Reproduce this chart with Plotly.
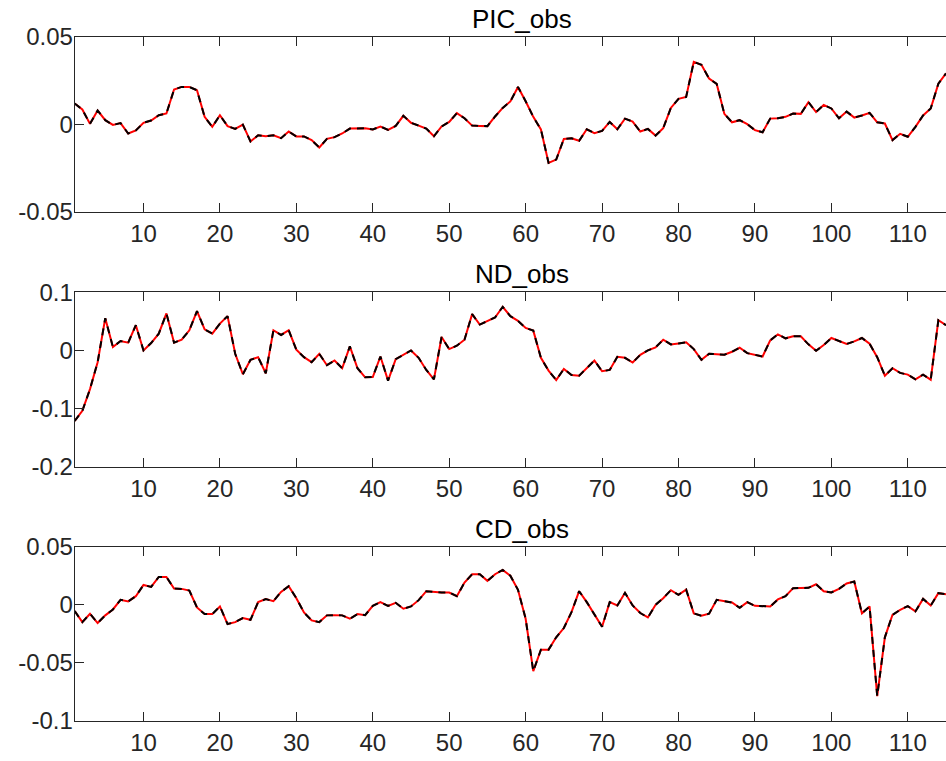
import plotly.graph_objects as go

# Observed series (quarterly index 1..115)
periods = list(range(1, 116))

pic_obs = [
    0.0118, 0.0084, 0.0002, 0.0078, 0.0023, -0.0004, 0.0006, -0.0053, -0.0036, 0.0008,
    0.0021, 0.0051, 0.0061, 0.0198, 0.0213, 0.0213, 0.0194, 0.0042, -0.0015, 0.0051,
    -0.0011, -0.0027, -0.0002, -0.0099, -0.0063, -0.0069, -0.0063, -0.0080, -0.0042, -0.0070,
    -0.0070, -0.0091, -0.0133, -0.0084, -0.0074, -0.0053, -0.0025, -0.0023, -0.0023, -0.0030,
    -0.0013, -0.0032, -0.0010, 0.0048, 0.0008, -0.0008, -0.0025, -0.0069, -0.0013, 0.0013,
    0.0063, 0.0034, -0.0008, -0.0010, -0.0011, 0.0044, 0.0093, 0.0130, 0.0213, 0.0131,
    0.0042, -0.0030, -0.0221, -0.0202, -0.0084, -0.0080, -0.0095, -0.0029, -0.0051, -0.0038,
    0.0013, -0.0029, 0.0032, 0.0015, -0.0042, -0.0027, -0.0065, -0.0023, 0.0093, 0.0145,
    0.0156, 0.0356, 0.0339, 0.0261, 0.0230, 0.0059, 0.0011, 0.0023, 0.0000, -0.0034,
    -0.0046, 0.0032, 0.0034, 0.0042, 0.0061, 0.0059, 0.0126, 0.0069, 0.0110, 0.0090,
    0.0034, 0.0072, 0.0038, 0.0050, 0.0065, 0.0011, 0.0004, -0.0091, -0.0055, -0.0072,
    -0.0015, 0.0050, 0.0090, 0.0232, 0.0290,
]

nd_obs = [
    -0.1214, -0.1040, -0.0665, -0.0202, 0.0555, 0.0058, 0.0162, 0.0133, 0.0434, 0.0000,
    0.0127, 0.0289, 0.0636, 0.0133, 0.0185, 0.0347, 0.0676, 0.0364, 0.0289, 0.0462,
    0.0590, -0.0058, -0.0410, -0.0162, -0.0116, -0.0393, 0.0347, 0.0266, 0.0347, 0.0012,
    -0.0116, -0.0202, -0.0058, -0.0254, -0.0173, -0.0306, 0.0069, -0.0306, -0.0462, -0.0457,
    -0.0104, -0.0520, -0.0150, -0.0075, 0.0000, -0.0127, -0.0335, -0.0497, 0.0231, 0.0023,
    0.0081, 0.0185, 0.0624, 0.0445, 0.0509, 0.0566, 0.0751, 0.0590, 0.0509, 0.0387,
    0.0341, -0.0127, -0.0347, -0.0509, -0.0318, -0.0422, -0.0434, -0.0301, -0.0173, -0.0358,
    -0.0335, -0.0110, -0.0127, -0.0208, -0.0075, 0.0000, 0.0052, 0.0185, 0.0104, 0.0121,
    0.0139, 0.0023, -0.0162, -0.0058, -0.0064, -0.0075, -0.0023, 0.0046, -0.0046, -0.0081,
    -0.0104, 0.0173, 0.0277, 0.0208, 0.0243, 0.0243, 0.0104, -0.0006, 0.0092, 0.0214,
    0.0168, 0.0110, 0.0156, 0.0214, 0.0116, -0.0116, -0.0434, -0.0306, -0.0387, -0.0416,
    -0.0497, -0.0416, -0.0503, 0.0520, 0.0434,
]

cd_obs = [
    -0.0054, -0.0149, -0.0077, -0.0157, -0.0091, -0.0040, 0.0043, 0.0029, 0.0074, 0.0171,
    0.0154, 0.0240, 0.0240, 0.0140, 0.0137, 0.0123, -0.0023, -0.0080, -0.0080, -0.0014,
    -0.0166, -0.0149, -0.0114, -0.0129, 0.0023, 0.0049, 0.0031, 0.0111, 0.0160, 0.0057,
    -0.0066, -0.0134, -0.0149, -0.0091, -0.0089, -0.0091, -0.0120, -0.0080, -0.0089, -0.0009,
    0.0023, -0.0009, 0.0017, -0.0034, -0.0014, 0.0040, 0.0117, 0.0109, 0.0106, 0.0106,
    0.0074, 0.0191, 0.0263, 0.0263, 0.0206, 0.0263, 0.0300, 0.0250, 0.0129, -0.0120,
    -0.0571, -0.0386, -0.0386, -0.0280, -0.0200, -0.0063, 0.0117, 0.0023, -0.0086, -0.0189,
    0.0023, -0.0006, 0.0103, -0.0006, -0.0071, -0.0109, 0.0000, 0.0057, 0.0126, 0.0086,
    0.0131, -0.0074, -0.0094, -0.0077, 0.0043, 0.0031, 0.0020, -0.0026, 0.0023, -0.0009,
    -0.0011, -0.0014, 0.0046, 0.0074, 0.0143, 0.0146, 0.0146, 0.0177, 0.0117, 0.0106,
    0.0137, 0.0183, 0.0200, -0.0074, -0.0014, -0.0786, -0.0280, -0.0086, -0.0043, -0.0011,
    -0.0057, 0.0051, -0.0006, 0.0100, 0.0091,
]

titles = ["PIC_obs", "ND_obs", "CD_obs"]
series = [pic_obs, nd_obs, cd_obs]
y_ranges = [[-0.05, 0.05], [-0.2, 0.1], [-0.1, 0.05]]
y_tickvals = [[-0.05, 0, 0.05], [-0.2, -0.1, 0, 0.1], [-0.1, -0.05, 0, 0.05]]
y_ticktext = [["-0.05", "0", "0.05"], ["-0.2", "-0.1", "0", "0.1"], ["-0.1", "-0.05", "0", "0.05"]]
x_tickvals = [10, 20, 30, 40, 50, 60, 70, 80, 90, 100, 110]

W, H = 946, 761
FONT = "Liberation Sans, Arial, Helvetica, sans-serif"
AX_COLOR = "#262626"

# panel boxes in pixels: (top, bottom)
panel_px = [(36.7, 211.7), (292.3, 466.7), (546.7, 721.0)]
left_px = 74.7

fig = go.Figure()
layout = dict(
    width=W, height=H,
    margin=dict(l=0, r=0, t=0, b=0, pad=0, autoexpand=False),
    paper_bgcolor="white", plot_bgcolor="white",
    showlegend=False,
    font=dict(family=FONT, color=AX_COLOR, size=24),
)
annotations = []

for k, (name, vals) in enumerate(zip(titles, series)):
    sfx = "" if k == 0 else str(k + 1)
    xa, ya = "x" + sfx, "y" + sfx
    fig.add_trace(go.Scatter(
        x=periods, y=vals, mode="lines", xaxis=xa, yaxis=ya,
        line=dict(color="#ff0000", width=2), hoverinfo="skip"))
    fig.add_trace(go.Scatter(
        x=periods, y=vals, mode="lines", xaxis=xa, yaxis=ya,
        line=dict(color="#000000", width=2, dash="7px,6px")))

    top, bot = panel_px[k]
    layout["xaxis" + sfx] = dict(
        domain=[left_px / W, 1.0], anchor=ya, range=[1, 115],
        tickvals=x_tickvals, ticktext=[str(v) for v in x_tickvals],
        ticks="inside", ticklen=9, tickwidth=1, tickcolor=AX_COLOR,
        showline=True, linecolor=AX_COLOR, linewidth=1, mirror="ticks",
        showgrid=False, zeroline=False, automargin=False,
        tickfont=dict(family=FONT, size=24, color=AX_COLOR),
        ticklabelstandoff=0,
    )
    layout["yaxis" + sfx] = dict(
        domain=[1 - bot / H, 1 - top / H], anchor=xa, range=y_ranges[k],
        tickvals=y_tickvals[k], ticktext=y_ticktext[k],
        ticks="inside", ticklen=9, tickwidth=1, tickcolor=AX_COLOR,
        showline=True, linecolor=AX_COLOR, linewidth=1, mirror=False,
        showgrid=False, zeroline=False, automargin=False,
        tickfont=dict(family=FONT, size=24, color=AX_COLOR),
        ticklabelstandoff=-4,
    )
    annotations.append(dict(
        text=name, x=521.5 / W, y=1 - top / H, xref="paper", yref="paper",
        xanchor="center", yanchor="bottom", yshift=1, showarrow=False,
        font=dict(family=FONT, size=26, color="#000000")))

layout["annotations"] = annotations
fig.update_layout(**layout)
fig.write_html("out.html")
